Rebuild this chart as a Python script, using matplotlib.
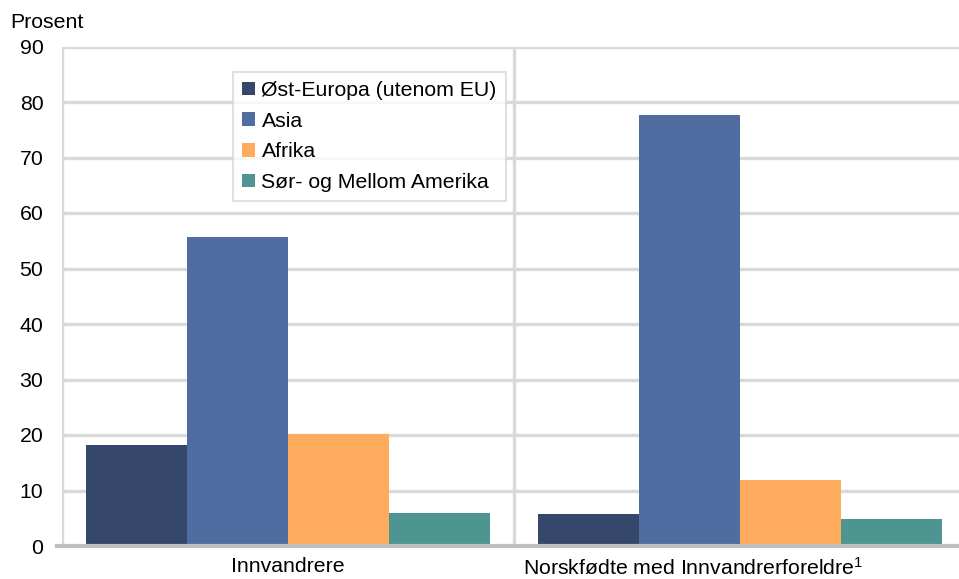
import matplotlib
matplotlib.use("Agg")
import matplotlib.pyplot as plt
import matplotlib.transforms as mtransforms
import numpy as np

plt.rcParams['font.family'] = ['Liberation Sans', 'DejaVu Sans']
plt.rcParams['mathtext.fontset'] = 'custom'
plt.rcParams['mathtext.rm'] = 'Liberation Sans'
plt.rcParams['mathtext.default'] = 'regular'

categories = ["Innvandrere", "Norskfødte med Innvandrerforeldre$^{1}$"]
series_names = ["Øst-Europa (utenom EU)", "Asia", "Afrika", "Sør- og Mellom Amerika"]
ost_europa = [18.2, 5.8]
asia = [55.7, 77.7]
afrika = [20.2, 11.9]
sor_mellom_amerika = [5.9, 4.9]
yticks = [0, 10, 20, 30, 40, 50, 60, 70, 80, 90]

colors = ["#35476b", "#506da2", "#ffab5d", "#4e9592"]
series = [ost_europa, asia, afrika, sor_mellom_amerika]

FS = 15.3

fig = plt.figure(figsize=(9.59, 5.79), dpi=100)
ax = fig.add_axes([62/959, 33/579, 904/959, 499.5/579])

x = np.arange(len(categories))
bw = 0.2235
offsets = (np.arange(4) - 1.5) * bw
for vals, off, c, name in zip(series, offsets, colors, series_names):
    ax.bar(x + off, vals, width=bw, color=c, label=name, zorder=3, linewidth=0)

ax.set_xlim(-0.5, 1.5)
ax.set_ylim(0, 90)
ax.set_yticks(yticks)
ax.set_yticklabels([str(v) for v in yticks])

grid_c = "#d9d9d9"
for v in yticks[1:]:
    ax.axhline(v, color=grid_c, lw=2.4, zorder=1)
for xv in [-0.5, 0.5, 1.5]:
    ax.axvline(xv, color=grid_c, lw=2.4, zorder=1)

for s in ax.spines.values():
    s.set_visible(False)
ax.axhline(0, color="#c0c0c0", lw=3.0, zorder=4, xmin=-0.005, clip_on=False)

ax.set_xticks(x)
ax.set_xticklabels(categories)
ax.tick_params(axis='both', length=0, labelsize=FS, colors='black')
ax.tick_params(axis='y', pad=13.5)
ax.tick_params(axis='x', pad=8)

lbls = ax.get_xticklabels()
lbls[1].set_transform(lbls[1].get_transform() + mtransforms.ScaledTranslation(-47/100, 0, fig.dpi_scale_trans))

fig.text(10/959, 1 - 22/579, "Prosent", fontsize=FS, va='center', ha='left')

leg = ax.legend(loc='upper left', bbox_to_anchor=(233/959, 1 - 72/579),
                bbox_transform=fig.transFigure, fontsize=FS, frameon=True,
                fancybox=False, handlelength=0.62, handleheight=0.62,
                handletextpad=0.3, labelspacing=0.55, borderpad=0.42,
                borderaxespad=0)
leg.get_frame().set_edgecolor(grid_c)
leg.get_frame().set_linewidth(1.5)
leg.set_zorder(5)

fig.savefig("out.png", dpi=100)
